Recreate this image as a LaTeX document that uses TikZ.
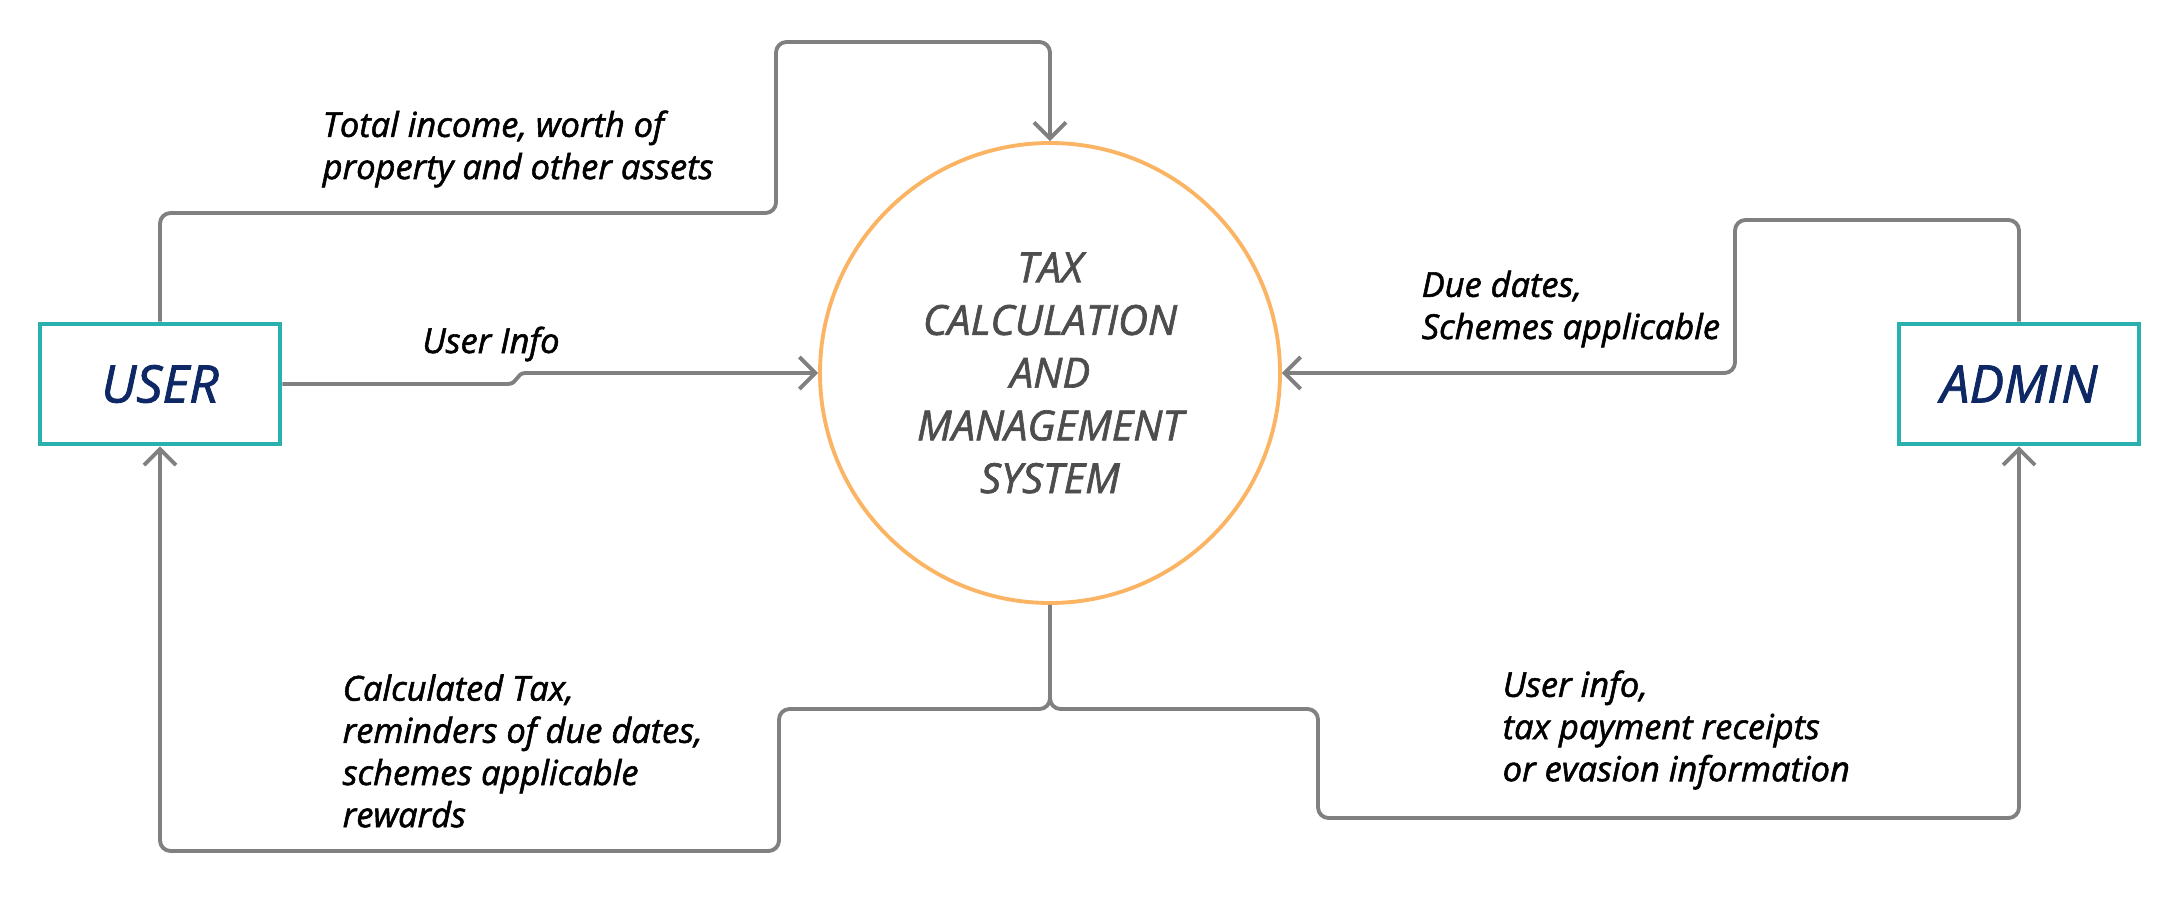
\documentclass[tikz,border=0pt]{standalone}
\usepackage{fontspec}
\setmainfont{Open Sans}[ItalicFeatures={FakeBold=1.6}]
\usepackage{tikz}
\usetikzlibrary{arrows.meta,positioning}

\definecolor{boxteal}{RGB}{42,176,174}
\definecolor{sysorange}{RGB}{250,180,100}
\definecolor{flowgray}{RGB}{128,128,128}
\definecolor{entblue}{RGB}{13,40,100}
\definecolor{systext}{RGB}{77,77,77}

\begin{document}
\begin{tikzpicture}[
    entity/.style={draw=boxteal, line width=1.3pt, minimum width=2.4cm, minimum height=1.2cm,
      font=\fontsize{14.7}{16}\selectfont\itshape, text=entblue},
    process/.style={circle, draw=sysorange, line width=1.1pt, minimum size=4.6cm, align=center,
      font=\fontsize{11.8}{15}\selectfont\itshape, text=systext},
    flow/.style={draw=flowgray, line width=1.1pt, rounded corners=3pt,
      -{Straight Barb[length=1.6mm,width=3.2mm,line width=1.1pt]}},
    lbl/.style={align=left, inner sep=0pt, font=\fontsize{9.8}{12}\selectfont\itshape}]
            \useasboundingbox (0,0) rectangle (21.8,8.97);
            \node[entity] (user) at (1.60,5.13) {USER};
            \node[entity] (admin) at (20.19,5.13) {ADMIN};
            \node[process] (sys) at (10.50,5.24) {TAX\\CALCULATION\\AND\\MANAGEMENT\\SYSTEM};
            \coordinate (fork) at (10.50,1.88);
            % flows
            \draw[flow] (user.north) |- (7.76,6.84) |- (10.50,8.55) -- (sys.north);
            \draw[flow] (user.east) -- (4.97,5.13) .. controls (5.18,5.13) and (5.16,5.24) .. (5.36,5.24) -- (sys.west);
            \draw[flow] (admin.north) |- (17.35,6.77) |- (sys.east);
            \draw[flow] (sys.south) -- (fork) -| (7.79,0.46) -| (user.south);
            \draw[flow] (sys.south) -- (fork) -| (13.18,0.79) -| (admin.south);
            % labels
            \node[lbl, anchor=west] (l1) at (3.22,7.48) {Total income, worth of\\property and other assets};
            \node[lbl] (l2) at (4.91,5.53) {User Info};
            \node[lbl, anchor=west] (l3) at (14.21,5.88) {Due dates,\\Schemes applicable};
            \node[lbl, anchor=west] (l4) at (3.42,1.46) {Calculated Tax,\\reminders of due dates,\\schemes applicable\\rewards};
            \node[lbl, anchor=west] (l5) at (15.02,1.67) {User info,\\tax payment receipts\\or evasion information};
        \end{tikzpicture}
\end{document}
